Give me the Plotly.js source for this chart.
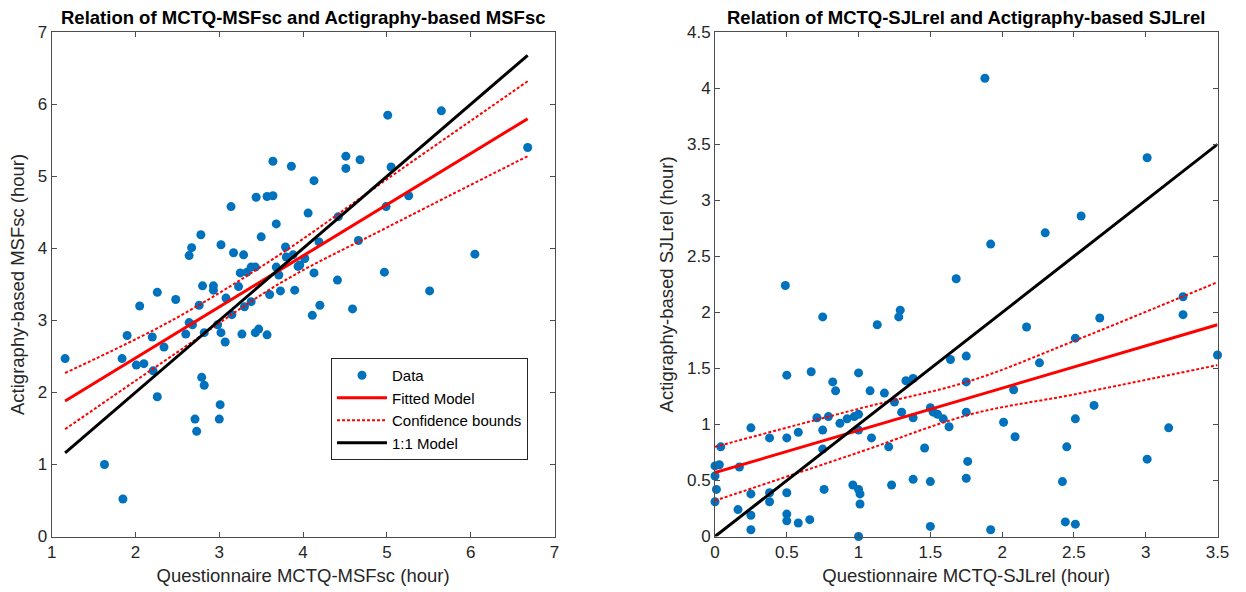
<!DOCTYPE html>
<html>
<head>
<meta charset="utf-8">
<script src="https://cdn.plot.ly/plotly-3.0.1.min.js"></script>
<style>html,body{margin:0;padding:0;background:#fff;}#chart{width:1246px;height:592px;}</style>
</head>
<body>
<div id="chart"></div>
<script>
// ---------- Left panel: MSFsc ----------
const msfQuestionnaire = [1.16,1.63,1.85,1.84,1.90,2.01,2.10,2.05,2.20,2.21,2.26,2.26,2.34,2.48,2.60,2.64,2.68,2.76,2.64,2.67,2.78,2.80,2.93,2.93,2.79,2.82,2.71,2.73,2.82,2.98,3.02,3.07,3.01,3.00,3.02,3.14,3.17,3.08,3.15,3.23,3.29,3.25,3.30,3.27,3.38,3.33,3.38,3.43,3.44,3.50,3.57,3.64,3.64,3.68,3.60,3.68,3.71,3.73,3.43,3.47,3.57,3.79,3.86,3.90,3.94,3.80,3.88,4.02,3.96,5.01,5.65,6.68,4.51,4.51,4.68,5.05,4.13,5.26,4.99,4.06,4.42,4.66,4.19,6.05,4.13,4.97,4.41,5.51,4.20,4.59,4.11];
const msfActigraphy   = [2.47,1.00,0.52,2.47,2.79,2.38,2.40,3.20,2.77,2.30,1.94,3.39,2.63,3.29,2.81,2.97,2.94,3.21,3.90,4.01,4.19,3.48,3.48,3.42,2.21,2.10,1.63,1.46,2.83,2.94,2.83,2.70,1.83,1.63,4.05,4.58,3.94,3.31,3.08,3.47,3.91,3.66,3.19,2.81,3.26,3.67,3.74,3.74,4.71,4.16,4.72,4.73,5.21,4.34,3.36,3.74,3.63,3.41,2.83,2.88,2.80,4.02,5.14,3.42,3.75,3.88,3.91,3.86,3.77,5.85,5.91,5.40,5.28,5.11,5.23,5.13,4.94,4.73,4.58,4.49,4.44,4.11,4.09,3.92,3.66,3.67,3.56,3.41,3.21,3.16,3.07];
const msfFitX   = [1.16, 6.68];
const msfFitY   = [1.88, 5.80];
const msfBoundX = [1.16, 2.45, 3.73, 5.00, 6.68];
const msfUpperY = [2.27, 3.01, 3.92, 4.96, 6.32];
const msfLowerY = [1.49, 2.52, 3.52, 4.29, 5.28];
const msfOneX   = [1.16, 6.68];
const msfOneY   = [1.16, 6.68];
const msfTickVals  = [1,2,3,4,5,6,7];
const msfTickText  = ['1','2','3','4','5','6','7'];
const msfYTickVals = [0,1,2,3,4,5,6,7];
const msfYTickText = ['0','1','2','3','4','5','6','7'];

// ---------- Right panel: SJLrel ----------
const sjlQuestionnaire = [0.00,0.03,0.00,0.01,0.00,0.04,0.17,0.16,0.25,0.25,0.25,0.25,0.38,0.38,0.38,0.50,0.50,0.50,0.50,0.50,0.58,0.58,0.66,0.67,0.71,0.75,0.75,0.76,0.79,0.82,0.84,0.87,0.92,0.97,1.00,1.00,1.00,0.96,1.00,1.01,1.01,1.00,1.08,1.09,1.18,1.25,1.21,1.23,1.30,1.33,1.38,1.38,1.38,1.46,1.50,1.50,1.50,1.52,1.55,1.59,1.63,1.64,1.75,1.75,1.75,1.76,1.75,2.26,2.08,2.64,2.01,2.51,2.09,2.45,3.16,3.01,2.42,1.92,2.44,2.51,3.50,0.49,0.75,1.13,1.29,1.28,1.68,1.88,3.01,2.55,2.30,1.92,3.26,3.26,2.68,2.17,2.51];
const sjlActigraphy   = [0.63,0.64,0.54,0.42,0.31,0.80,0.62,0.24,0.97,0.38,0.19,0.06,0.88,0.39,0.31,1.44,0.88,0.39,0.20,0.14,0.93,0.12,0.15,1.47,1.06,0.95,0.78,0.42,1.07,1.38,1.30,1.01,1.05,1.07,1.46,1.09,0.95,0.46,0.42,0.38,0.29,0.00,1.30,0.88,1.28,1.20,0.80,0.46,1.11,1.39,1.41,1.06,0.51,0.79,0.49,0.09,1.15,1.11,1.09,1.05,0.98,1.58,1.61,1.38,1.11,0.67,0.52,1.55,1.31,1.17,1.02,1.05,0.89,0.80,0.97,0.69,0.49,0.06,0.13,0.11,1.62,2.24,1.96,1.89,2.02,1.96,2.30,4.09,3.38,2.86,2.71,2.61,2.14,1.98,1.95,1.87,1.77];
const sjlFitX   = [0, 3.5];
const sjlFitY   = [0.57, 1.89];
const sjlBoundX = [0, 1.00, 1.78, 2.51, 3.5];
const sjlUpperY = [0.80, 1.14, 1.39, 1.75, 2.27];
const sjlLowerY = [0.32, 0.75, 1.09, 1.27, 1.53];
const sjlOneX   = [0, 3.5];
const sjlOneY   = [0, 3.5];
const sjlTickVals  = [0,0.5,1,1.5,2,2.5,3,3.5];
const sjlTickText  = ['0','0.5','1','1.5','2','2.5','3','3.5'];
const sjlYTickVals = [0,0.5,1,1.5,2,2.5,3,3.5,4,4.5];
const sjlYTickText = ['0','0.5','1','1.5','2','2.5','3','3.5','4','4.5'];

const legendNames = ['Data','Fitted Model','Confidence bounds','1:1 Model'];
const titles = ['Relation of MCTQ-MSFsc and Actigraphy-based MSFsc','Relation of MCTQ-SJLrel and Actigraphy-based SJLrel'];
const xTitles = ['Questionnaire MCTQ-MSFsc (hour)','Questionnaire MCTQ-SJLrel (hour)'];
const yTitles = ['Actigraphy-based MSFsc (hour)','Actigraphy-based SJLrel (hour)'];

const FONT = 'Liberation Sans, Arial, Helvetica, sans-serif';
const BLUE = '#0072BD';
const W = 1246, H = 592;

function panelTraces(qx, ay, fx, fy, bx, up, lo, ox, oy, xa, ya, show) {
  return [
    {x: qx, y: ay, xaxis: xa, yaxis: ya, type: 'scatter', mode: 'markers', name: legendNames[0],
     marker: {color: BLUE, size: 9}, cliponaxis: false, showlegend: show, legendrank: 1},
    {x: fx, y: fy, xaxis: xa, yaxis: ya, type: 'scatter', mode: 'lines', name: legendNames[1],
     line: {color: '#FF0000', width: 3}, showlegend: show, legendrank: 2},
    {x: bx, y: up, xaxis: xa, yaxis: ya, type: 'scatter', mode: 'lines', name: legendNames[2],
     line: {color: '#FF0000', width: 2, dash: '3px,2px', shape: 'spline'}, showlegend: show, legendrank: 3},
    {x: bx, y: lo, xaxis: xa, yaxis: ya, type: 'scatter', mode: 'lines', name: legendNames[2],
     line: {color: '#FF0000', width: 2, dash: '3px,2px', shape: 'spline'}, showlegend: false},
    {x: ox, y: oy, xaxis: xa, yaxis: ya, type: 'scatter', mode: 'lines', name: legendNames[3],
     line: {color: '#000000', width: 3}, showlegend: show, legendrank: 4}
  ];
}

const data = [
  ...panelTraces(msfQuestionnaire, msfActigraphy, msfFitX, msfFitY, msfBoundX, msfUpperY, msfLowerY, msfOneX, msfOneY, 'x', 'y', true),
  ...panelTraces(sjlQuestionnaire, sjlActigraphy, sjlFitX, sjlFitY, sjlBoundX, sjlUpperY, sjlLowerY, sjlOneX, sjlOneY, 'x2', 'y2', false)
];

const yDom = [(H - 536.5) / H, (H - 32.3) / H];
function axisBase() {
  return {
    showline: true, mirror: 'ticks', linecolor: '#4d4d4d', linewidth: 1,
    ticks: 'inside', ticklen: 5, tickcolor: '#4d4d4d', tickwidth: 1,
    showgrid: false, zeroline: false, fixedrange: true,
    tickfont: {family: FONT, size: 17, color: '#262626'}
  };
}

const layout = {
  width: W, height: H,
  margin: {l: 0, r: 0, t: 0, b: 0},
  paper_bgcolor: '#ffffff', plot_bgcolor: '#ffffff',
  font: {family: FONT, color: '#262626'},
  showlegend: true,
  legend: {
    x: 331 / W, y: (H - 358) / H, xanchor: 'left', yanchor: 'top',
    bgcolor: '#ffffff', bordercolor: '#262626', borderwidth: 1,
    font: {family: FONT, size: 15, color: '#000000'},
    itemwidth: 50, tracegroupgap: 0, traceorder: 'normal'
  },
  xaxis: Object.assign(axisBase(), {
    domain: [51.7 / W, 554.5 / W], range: [1, 7], anchor: 'y',
    tickmode: 'array', tickvals: msfTickVals, ticktext: msfTickText,
    title: {text: xTitles[0], font: {family: FONT, size: 18.5, color: '#262626'}, standoff: 8}
  }),
  yaxis: Object.assign(axisBase(), {
    domain: yDom, range: [0, 7], anchor: 'x',
    tickmode: 'array', tickvals: msfYTickVals, ticktext: msfYTickText,
    title: {text: yTitles[0], font: {family: FONT, size: 18.5, color: '#262626'}, standoff: 8}
  }),
  xaxis2: Object.assign(axisBase(), {
    domain: [715 / W, 1217.5 / W], range: [0, 3.5], anchor: 'y2',
    tickmode: 'array', tickvals: sjlTickVals, ticktext: sjlTickText,
    title: {text: xTitles[1], font: {family: FONT, size: 18.5, color: '#262626'}, standoff: 8}
  }),
  yaxis2: Object.assign(axisBase(), {
    domain: yDom, range: [0, 4.5], anchor: 'x2',
    tickmode: 'array', tickvals: sjlYTickVals, ticktext: sjlYTickText,
    title: {text: yTitles[1], font: {family: FONT, size: 18.5, color: '#262626'}, standoff: 8}
  }),
  annotations: [
    {text: '<b>' + titles[0] + '</b>', xref: 'x domain', yref: 'y domain', x: 0.5, y: 1,
     xanchor: 'center', yanchor: 'bottom', yshift: 2, showarrow: false,
     font: {family: FONT, size: 18.5, color: '#000000'}},
    {text: '<b>' + titles[1] + '</b>', xref: 'x2 domain', yref: 'y2 domain', x: 0.5, y: 1,
     xanchor: 'center', yanchor: 'bottom', yshift: 2, showarrow: false,
     font: {family: FONT, size: 18.5, color: '#000000'}}
  ]
};

Plotly.newPlot('chart', data, layout, {displayModeBar: false, staticPlot: true});
</script>
</body>
</html>
